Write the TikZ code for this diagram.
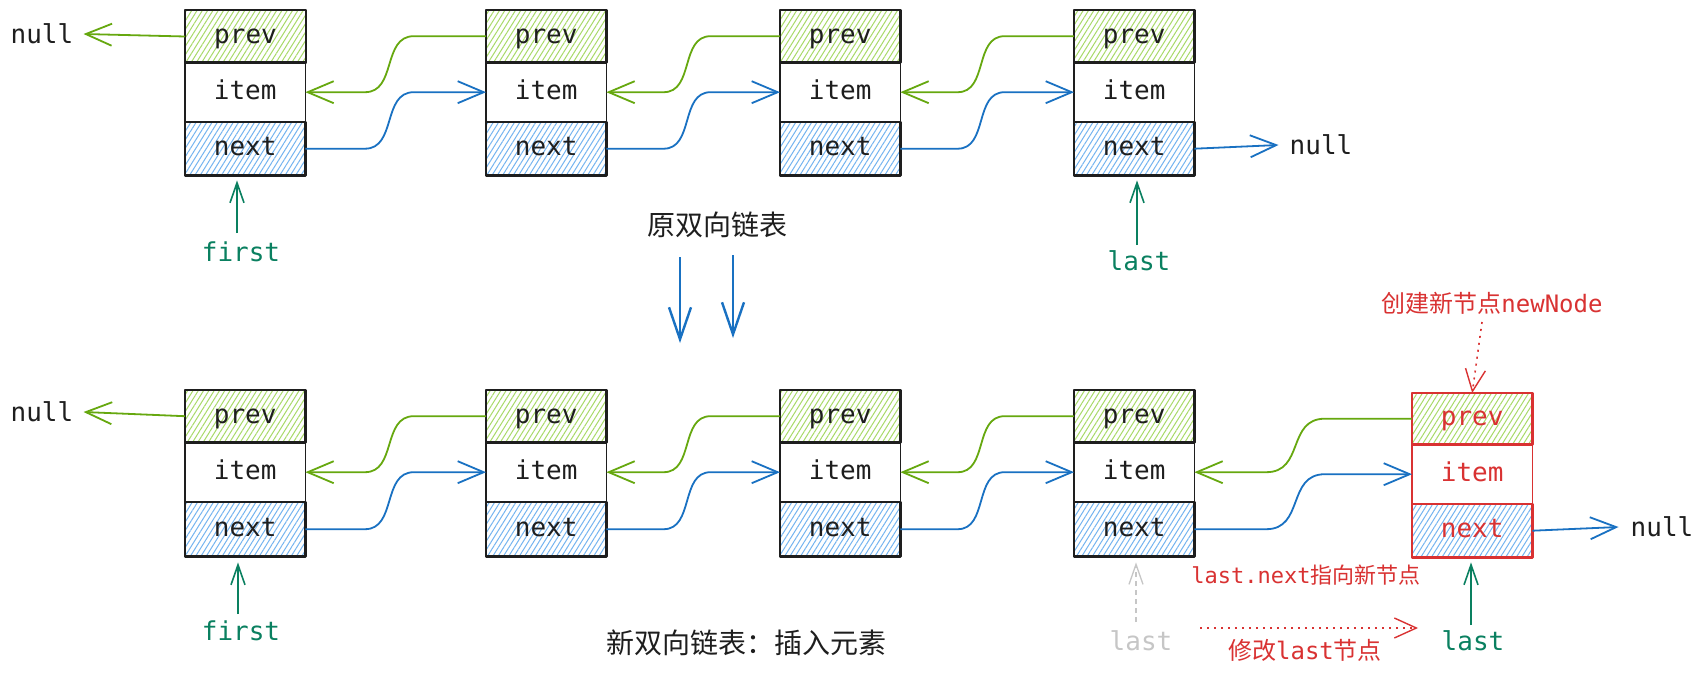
\documentclass[tikz,border=0pt]{standalone}
\usepackage{fontspec}
\newfontfamily\mono{DejaVu Sans Mono}
\newfontfamily\cjk{Noto Sans CJK SC}
\usetikzlibrary{arrows.meta,patterns.meta,calc}
\definecolor{ink}{HTML}{1E1E1E}
\definecolor{lime}{HTML}{66A80F}
\definecolor{hgreen}{HTML}{A8DA68}
\definecolor{bline}{HTML}{1971C2}
\definecolor{hblue}{HTML}{74B4F0}
\definecolor{teal}{HTML}{0A8060}
\definecolor{rd}{HTML}{D93232}
\definecolor{gry}{HTML}{C6C6C6}
\tikzset{
  cell/.style={minimum width=120pt, anchor=north west, inner sep=0pt,
    text height=19pt, text depth=5pt, font=\mono\fontsize{26}{30}\selectfont},
  hatchg/.style={pattern={Lines[angle=58,distance=4.5pt,line width=1pt]}, pattern color=hgreen},
  hatchb/.style={pattern={Lines[angle=58,distance=4.5pt,line width=1pt]}, pattern color=hblue},
  thickb/.style={line width=2.4pt, line join=round},
  thinb/.style={line width=1.3pt},
  gline/.style={draw=lime, line width=1.8pt, -{Straight Barb[length=26pt,width=22pt,line width=1.8pt]}},
  bline/.style={draw=bline, line width=1.8pt, -{Straight Barb[length=26pt,width=22pt,line width=1.8pt]}},
  ptr/.style={draw=teal, line width=1.6pt, -{Straight Barb[length=20pt,width=14pt,line width=1.6pt]}},
  gptr/.style={draw=gry, line width=1.3pt, dash pattern=on 5pt off 4pt, -{Straight Barb[length=20pt,width=14pt,line width=1.3pt]}},
  rdot/.style={draw=rd, line width=1.6pt, dash pattern=on 2pt off 5pt, -{Straight Barb[length=22pt,width=20pt,line width=1.4pt]}},
  down/.style={draw=bline, line width=2.6pt, -{Straight Barb[length=32pt,width=22pt,line width=2.4pt]}},
  monolbl/.style={inner sep=0pt, font=\mono\fontsize{26}{30}\selectfont},
  cjktitle/.style={inner sep=0pt, font=\cjk\fontsize{28}{32}\selectfont, text=ink},
  scurveR/.style={to path={let \p1=(\tikztostart), \p2=(\tikztotarget) in
     -- (0.67*\x1+0.33*\x2, \y1)
     .. controls (0.4945*\x1+0.5055*\x2, \y1) and (0.5755*\x1+0.4245*\x2, \y2) ..
     (0.40*\x1+0.60*\x2, \y2) -- (\tikztotarget)}},
  scurveL/.style={to path={let \p1=(\tikztostart), \p2=(\tikztotarget) in
     -- (0.60*\x1+0.40*\x2, \y1)
     .. controls (0.4245*\x1+0.5755*\x2, \y1) and (0.5055*\x1+0.4945*\x2, \y2) ..
     (0.33*\x1+0.67*\x2, \y2) -- (\tikztotarget)}}
}
\newcommand\llbox[8]{% name, x, y, prev h, item h, next h, stroke, text
  \node[cell, text=#8, minimum height=#5pt] (#1i) at (#2,#3+#4) {item};
  \node[cell, text=#8, hatchg, minimum height=#4pt] (#1p) at (#2,#3) {prev};
  \node[cell, text=#8, hatchb, minimum height=#6pt] (#1n) at (#2,#3+#4+#5) {next};
  \draw[#7, thinb] (#1i.north west) rectangle (#1i.south east);
  \draw[#7, thickb] (#1p.north west) rectangle (#1p.south east);
  \draw[#7, thickb] (#1n.north west) rectangle (#1n.south east);
}
\begin{document}
\begin{tikzpicture}[x=1pt,y=-1pt]
\useasboundingbox[fill=white] (0,0) rectangle (1704,674);

% top row
\llbox{a}{185}{10}{52}{60}{53}{ink}{ink}
\llbox{b}{486}{10}{52}{60}{53}{ink}{ink}
\llbox{c}{780}{10}{52}{60}{53}{ink}{ink}
\llbox{d}{1074}{10}{52}{60}{53}{ink}{ink}

% bottom row
\llbox{e}{185}{390}{52}{60}{54}{ink}{ink}
\llbox{f}{486}{390}{52}{60}{54}{ink}{ink}
\llbox{g}{780}{390}{52}{60}{54}{ink}{ink}
\llbox{h}{1074}{390}{52}{60}{54}{ink}{ink}
\llbox{k}{1412}{393}{51}{60}{53}{rd}{rd}

% null labels
\node[monolbl, text=ink, inner xsep=10pt] (n1) at (42,34) {null};
\node[monolbl, text=ink, inner xsep=11pt] (n2) at (1321,145) {null};
\node[monolbl, text=ink, inner xsep=10pt] (n3) at (42,412) {null};
\node[monolbl, text=ink, inner xsep=12pt] (n4) at (1662,527) {null};
\draw[gline] (ap.west) -- (n1.east);
\draw[bline] (dn.east) -- (n2.west);
\draw[gline] (ep.west) -- (n3.east);
\draw[bline] (kn.east) -- (n4.west);

% links top
\draw[bline] (an.east) to[scurveR] (bi.west);
\draw[bline] (bn.east) to[scurveR] (ci.west);
\draw[bline] (cn.east) to[scurveR] (di.west);
\draw[gline] (bp.west) to[scurveL] (ai.east);
\draw[gline] (cp.west) to[scurveL] (bi.east);
\draw[gline] (dp.west) to[scurveL] (ci.east);
% links bottom
\draw[bline] (en.east) to[scurveR] (fi.west);
\draw[bline] (fn.east) to[scurveR] (gi.west);
\draw[bline] (gn.east) to[scurveR] (hi.west);
\draw[bline] (hn.east) to[scurveR] (ki.west);
\draw[gline] (fp.west) to[scurveL] (ei.east);
\draw[gline] (gp.west) to[scurveL] (fi.east);
\draw[gline] (hp.west) to[scurveL] (gi.east);
\draw[gline] (kp.west) to[scurveL] (hi.east);

% pointers
\node[monolbl, text=teal] (first1) at (241,252) {first};
\node[monolbl, text=teal] (last1) at (1139,261) {last};
\node[monolbl, text=teal] (first2) at (241,631) {first};
\node[monolbl, text=gry] (last2) at (1141,641) {last};
\node[monolbl, text=teal] (last3) at (1473,641) {last};
\coordinate (f1s) at (237,233);
\coordinate (l1s) at (1137,245);
\coordinate (f2s) at (238,614);
\coordinate (l2s) at (1136,622);
\coordinate (l3s) at (1471,625);
\draw[ptr, shorten >=5pt] (f1s) -- (f1s |- an.south);
\draw[ptr, shorten >=5pt] (l1s) -- (l1s |- dn.south);
\draw[ptr, shorten >=6pt] (f2s) -- (f2s |- en.south);
\draw[gptr, shorten >=6pt] (l2s) -- (l2s |- hn.south);
\draw[ptr, shorten >=5pt] (l3s) -- (l3s |- kn.south);

% red annotations
\node[inner sep=0pt, text=rd] (newlbl) at (1492,303)
  {\cjk\fontsize{24}{28}\selectfont 创建新节点\mono newNode};
\node[inner sep=0pt, text=rd] (lnlbl) at (1306,575)
  {\mono\fontsize{22}{26}\selectfont last.next\cjk 指向新节点};
\node[inner sep=0pt, text=rd] (modlbl) at (1305,650)
  {\cjk\fontsize{24}{28}\selectfont 修改\mono last\cjk 节点};
\coordinate (na) at (1482,322);
\draw[rdot] (na) -- (kp.north);
\coordinate (ma) at (1200,628);
\coordinate (mb) at (1418,628);
\draw[rdot] (ma) -- (mb);

% titles
\node[cjktitle] (t1) at (717,225) {原双向链表};
\node[cjktitle] (t2) at (746,643) {新双向链表：插入元素};
\coordinate (d1a) at (680,257);
\coordinate (d1b) at (680,343);
\coordinate (d2a) at (733,255);
\coordinate (d2b) at (733,338);
\draw[down] (d1a) -- (d1b);
\draw[down] (d2a) -- (d2b);
\end{tikzpicture}
\end{document}
